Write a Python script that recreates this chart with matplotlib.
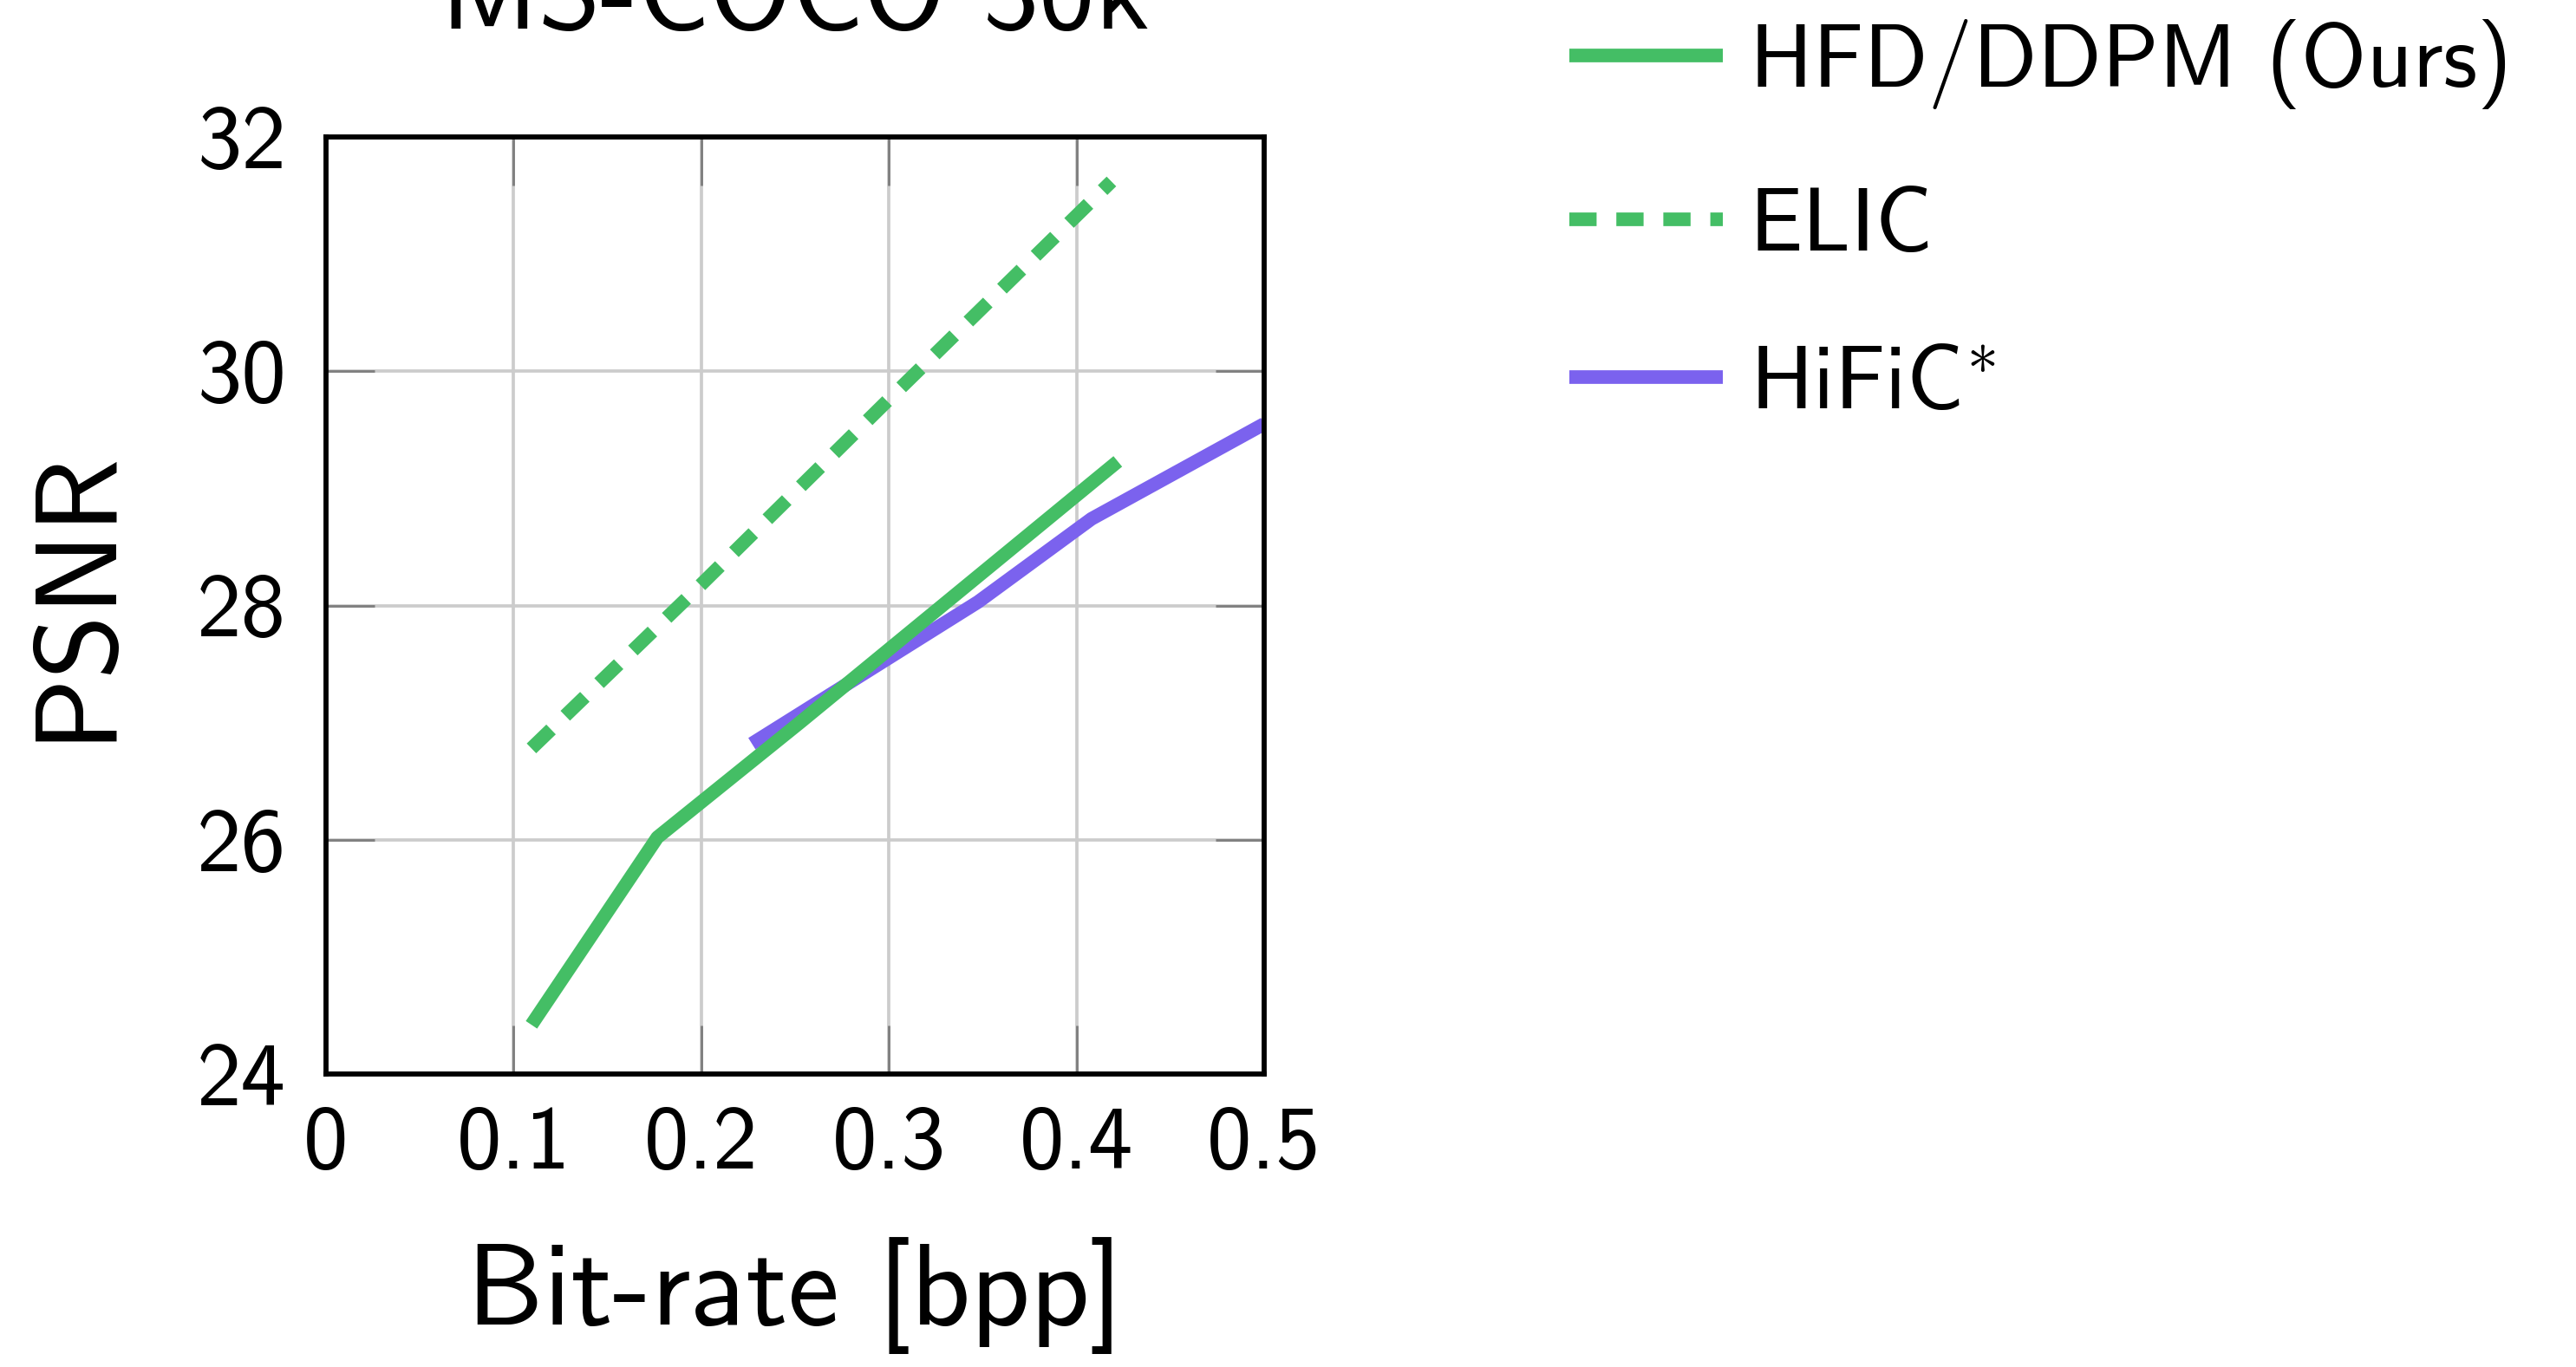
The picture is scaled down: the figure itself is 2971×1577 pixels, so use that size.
import numpy as np
import matplotlib
matplotlib.use("Agg")
import matplotlib.pyplot as plt


# =========================
# Data
# =========================

hfd_bpp = [0.1095, 0.1766, 0.2525, 0.422]
hfd_psnr = [24.42, 26.02, 27.0, 29.23]

elic_bpp = [0.1095, 0.2, 0.3, 0.4186]
elic_psnr = [26.78, 28.18, 29.76, 31.62]

hific_bpp = [0.227, 0.3475, 0.408, 0.5]
hific_psnr = [26.82, 28.03, 28.74, 29.55]

x_ticks = [0, 0.1, 0.2, 0.3, 0.4, 0.5]
x_tick_labels = ["0", "0.1", "0.2", "0.3", "0.4", "0.5"]
y_ticks = [24, 26, 28, 30, 32]

GREEN = "#44be65"
PURPLE = "#7b62ee"

# =========================
# Style
# =========================

plt.rcParams["font.family"] = ["cmss10", "DejaVu Sans"]
plt.rcParams["mathtext.fontset"] = "cm"
plt.rcParams["axes.unicode_minus"] = False
plt.rcParams["axes.formatter.use_mathtext"] = False

DPI = 300
W, H = 2971, 1577
fig = plt.figure(figsize=(W / DPI, H / DPI), dpi=DPI)

# axes box in pixels: left 376, right 1458, top 158, bottom 1239
ax = fig.add_axes([376 / W, (H - 1239) / H, (1458 - 376) / W, (1239 - 158) / H])

LW = 3.77

ax.plot(hfd_bpp, hfd_psnr, color=GREEN, lw=LW, solid_capstyle="butt",
        label="HFD/DDPM (Ours)", zorder=4)
ax.plot(elic_bpp, elic_psnr, color=GREEN, lw=LW, linestyle=(0, (2.0, 1.45)),
        dash_capstyle="butt", label="ELIC", zorder=4)
ax.plot(hific_bpp, hific_psnr, color=PURPLE, lw=LW, solid_capstyle="butt",
        label="$\\mathsf{HiFiC}^{*}$", zorder=3)

ax.set_xlim(0, 0.5)
ax.set_ylim(24, 32)
ax.set_xticks(x_ticks)
ax.set_xticklabels(x_tick_labels)
ax.set_yticks(y_ticks)

ax.grid(True, color="#cccccc", linewidth=0.9, zorder=0)
ax.set_axisbelow(True)

ax.tick_params(direction="in", length=13.4, width=0.7, color="#808080",
               top=True, right=True, labelsize=24.7)
ax.tick_params(axis="x", pad=9)
ax.tick_params(axis="y", pad=11)

for s in ax.spines.values():
    s.set_linewidth(1.4)
    s.set_color("black")
    s.set_zorder(5)

ax.set_xlabel("Bit-rate [bpp]", fontsize=32, labelpad=14)
ax.set_ylabel("PSNR", fontsize=32, labelpad=19, y=0.512)

ax.text(0.5, 1.1156, "MS-COCO 30k", transform=ax.transAxes, ha="center",
        va="baseline", fontsize=31)

fig.legend(loc="upper left", bbox_to_anchor=(1810 / W, 1 - 22 / H),
           frameon=False, fontsize=24.7, borderpad=0, borderaxespad=0,
           handlelength=1.72, handletextpad=0.3, labelspacing=0.88)

fig.savefig("out.png", dpi=DPI)
